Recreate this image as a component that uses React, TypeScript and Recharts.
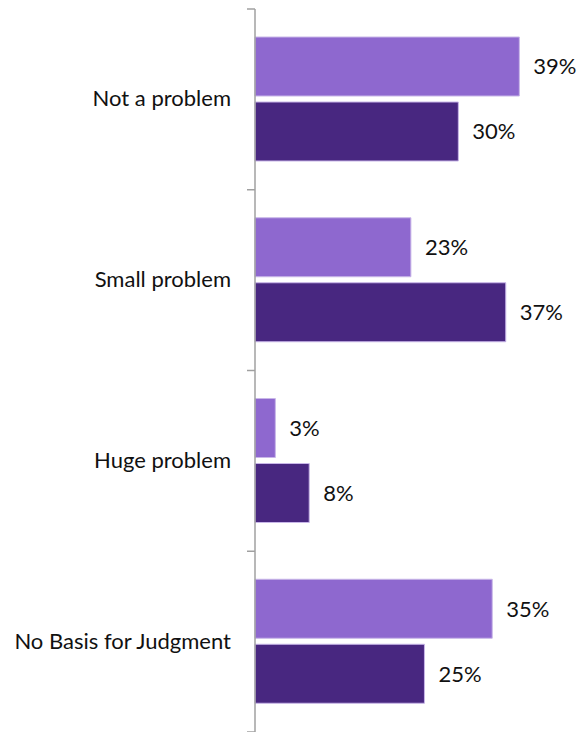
import { BarChart, Bar, XAxis, YAxis, LabelList } from "recharts";

const categories = ["Not a problem", "Small problem", "Huge problem", "No Basis for Judgment"];
const seriesA = [39, 23, 3, 35];
const seriesB = [30, 37, 8, 25];

const data = categories.map((name, i) => ({ name, a: seriesA[i], b: seriesB[i] }));

const CHART_W = 578;
const CHART_H = 732;
const MARGIN = { top: 9, right: 18, bottom: 0, left: 8 };
const PLOT_H = CHART_H - MARGIN.top - MARGIN.bottom;
const BAND = PLOT_H / categories.length;
const FONT = "Lato, 'Open Sans', sans-serif";
const AXIS = "#a0a0a0";

// recharts hands the tick its text anchor (axis x minus 8); boundary ticks sit between categories
const CategoryTick = (props: any) => {
    const { x, y, payload, index } = props;
    const ax = x + 8;
    const isLast = index === categories.length - 1;
    return (
        <g>
            <line x1={ax - 8} x2={ax} y1={y - BAND / 2} y2={y - BAND / 2} stroke={AXIS} strokeWidth={1.5} />
            {isLast && <line x1={ax - 8} x2={ax} y1={y + BAND / 2} y2={y + BAND / 2} stroke={AXIS} strokeWidth={1.5} />}
            <text x={ax - 24} y={y} dy={7} textAnchor="end" fill="#111" fontSize={22} fontFamily={FONT}>
                {payload.value}
            </text>
        </g>
    );
};

const pct = (v: any) => `${v}%`;
const labelStyle = { fill: "#111", fontSize: 22, fontFamily: FONT };

export default function App() {
    return (
        <div style={{ position: "fixed", top: 0, left: 0, width: CHART_W, height: CHART_H, background: "#fff" }}>
            <BarChart
                width={CHART_W}
                height={CHART_H}
                data={data}
                layout="vertical"
                margin={MARGIN}
                barGap={6}
                barCategoryGap={28}
            >
                <XAxis type="number" domain={[0, 45]} hide />
                <YAxis
                    type="category"
                    dataKey="name"
                    width={247}
                    axisLine={{ stroke: AXIS, strokeWidth: 1.5 }}
                    tickLine={false}
                    tick={<CategoryTick />}
                    interval={0}
                />
                <Bar dataKey="a" fill="#8e68cf" stroke="#c8b6e8" strokeWidth={1} isAnimationActive={false}>
                    <LabelList dataKey="a" position="right" offset={14} formatter={pct} style={labelStyle} />
                </Bar>
                <Bar dataKey="b" fill="#482780" stroke="#c8b6e8" strokeWidth={1} isAnimationActive={false}>
                    <LabelList dataKey="b" position="right" offset={14} formatter={pct} style={labelStyle} />
                </Bar>
            </BarChart>
        </div>
    );
}
